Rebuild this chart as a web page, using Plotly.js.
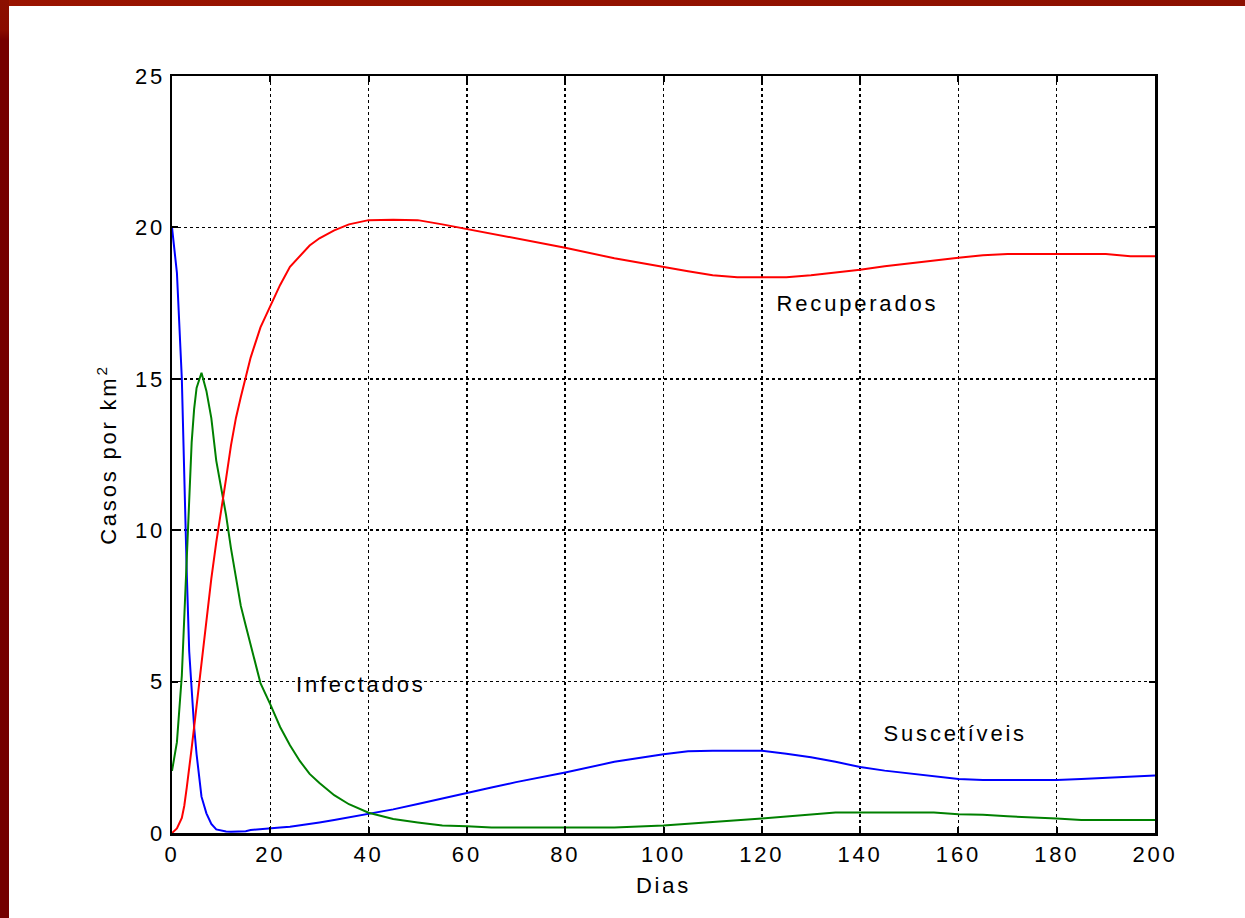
<!DOCTYPE html>
<html>
<head>
<meta charset="utf-8">
<script src="https://cdn.plot.ly/plotly-3.0.1.min.js"></script>
<style>
html, body { margin: 0; padding: 0; background: #ffffff; }
#chart { width: 1245px; height: 918px; }
.main-svg text { letter-spacing: 2.8px; }
#bandTop { position: absolute; left: 0; top: 0; width: 1245px; height: 6px; background: linear-gradient(to right, #9a1400, #8c1000); z-index: 5; }
#bandLeft { position: absolute; left: 0; top: 0; width: 9px; height: 918px; background: linear-gradient(to bottom, #8c1000 0px, #8a0c00 30px, #760000 40px, #740000 918px); z-index: 5; }
</style>
</head>
<body>
<div id="bandTop"></div>
<div id="bandLeft"></div>
<div id="chart"></div>
<script>
var days = [0, 1, 2, 2.5, 3, 3.5, 4, 4.5, 5, 6, 7, 8, 9, 10, 11, 12, 13, 14, 15, 16, 18, 20, 22, 24, 26, 28, 30, 33, 36, 40, 45, 50, 55, 60, 65, 70, 80, 90, 100, 105, 110, 115, 120, 125, 130, 135, 140, 145, 150, 155, 160, 165, 170, 175, 180, 185, 190, 195, 200];

var suscetiveis = [20.0, 18.5, 15.0, 11.6, 8.6, 6.0, 4.6, 3.5, 2.6, 1.2, 0.65, 0.3, 0.12, 0.08, 0.05, 0.04, 0.04, 0.04, 0.06, 0.1, 0.12, 0.14, 0.18, 0.21, 0.25, 0.3, 0.35, 0.43, 0.52, 0.62, 0.78, 0.96, 1.15, 1.32, 1.5, 1.68, 2.0, 2.35, 2.6, 2.7, 2.72, 2.72, 2.72, 2.62, 2.5, 2.35, 2.18, 2.06, 1.97, 1.88, 1.78, 1.75, 1.75, 1.75, 1.75, 1.78, 1.82, 1.85, 1.9];

var infectados = [2.05, 3.0, 5.2, 7.1, 9.0, 11.0, 12.9, 14.0, 14.7, 15.2, 14.6, 13.7, 12.3, 11.4, 10.5, 9.4, 8.4, 7.5, 6.85, 6.2, 4.95, 4.25, 3.5, 2.9, 2.38, 1.95, 1.65, 1.25, 0.95, 0.67, 0.46, 0.35, 0.25, 0.22, 0.18, 0.18, 0.18, 0.18, 0.25, 0.3, 0.35, 0.42, 0.48, 0.54, 0.62, 0.68, 0.68, 0.68, 0.68, 0.68, 0.62, 0.6, 0.55, 0.52, 0.48, 0.43, 0.43, 0.43, 0.43];

var recuperados = [0.0, 0.15, 0.5, 0.9, 1.5, 2.1, 2.8, 3.5, 4.2, 5.7, 7.1, 8.4, 9.6, 10.6, 11.7, 12.8, 13.7, 14.4, 15.1, 15.7, 16.7, 17.4, 18.1, 18.7, 19.05, 19.4, 19.64, 19.9, 20.1, 20.24, 20.25, 20.24, 20.1, 19.95, 19.8, 19.65, 19.33, 18.98, 18.68, 18.55, 18.42, 18.35, 18.35, 18.35, 18.42, 18.5, 18.6, 18.72, 18.82, 18.92, 19.0, 19.08, 19.12, 19.12, 19.12, 19.12, 19.12, 19.05, 19.05];

var seriesNames = ["Suscetíveis", "Infectados", "Recuperados"];
var labelX = [159.5, 38.5, 139.4];
var labelY = [3.3, 4.9, 17.5];
var xTicks = [0, 20, 40, 60, 80, 100, 120, 140, 160, 180, 200];
var yTicks = [0, 5, 10, 15, 20, 25];

var colors = ["#0000ff", "#008000", "#ff0000"];
var values = [suscetiveis, infectados, recuperados];

var traces = values.map(function (v, i) {
  return {
    x: days, y: v, type: "scatter", mode: "lines", name: seriesNames[i],
    line: { color: colors[i], width: 2 }, hoverinfo: "x+y"
  };
});

var txtFont = { family: "Liberation Sans, Arial, sans-serif", size: 22, color: "#000000" };

var annotations = seriesNames.map(function (n, i) {
  return { x: labelX[i], y: labelY[i], xref: "x", yref: "y", text: n, showarrow: false, font: txtFont, xanchor: "center", yanchor: "middle" };
});

var axisCommon = {
  showline: true, linecolor: "#000000", linewidth: 2.5, mirror: "ticks",
  ticks: "inside", ticklen: 6, tickwidth: 2, tickcolor: "#000000",
  showgrid: true, gridcolor: "#000000", gridwidth: 1.5, griddash: "dot",
  zeroline: false, tickfont: txtFont, fixedrange: true
};

var layout = {
  width: 1245, height: 918,
  margin: { l: 172, r: 90, t: 76, b: 85 },
  paper_bgcolor: "#ffffff", plot_bgcolor: "#ffffff",
  showlegend: false,
  xaxis: Object.assign({}, axisCommon, {
    range: [0, 200], tickvals: xTicks, ticktext: xTicks.map(String),
    title: { text: "Dias", font: txtFont, standoff: 12 }
  }),
  yaxis: Object.assign({}, axisCommon, {
    range: [0, 25], tickvals: yTicks, ticktext: yTicks.map(String),
    title: { text: "Casos por km<sup>2</sup>", font: txtFont, standoff: 18 }
  }),
  annotations: annotations
};

Plotly.newPlot("chart", traces, layout, { displayModeBar: false, staticPlot: true });
</script>
</body>
</html>
